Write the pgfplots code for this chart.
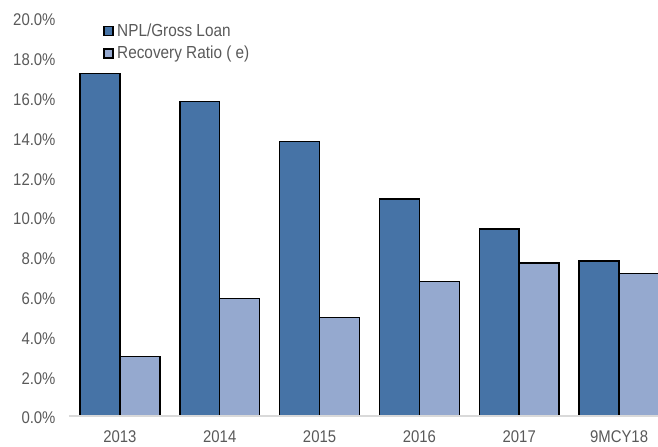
\documentclass[border=0pt]{standalone}
\usepackage{pgfplots}
\pgfplotsset{compat=1.18}
\usepackage{fontspec}
\setmainfont{Liberation Sans}[FakeStretch=0.88]
\definecolor{darkb}{HTML}{4673A6}
\definecolor{lightb}{HTML}{95A9CF}
\definecolor{txtgray}{HTML}{595959}
\begin{document}
\begin{tikzpicture}
\path[use as bounding box] (-69bp,-31bp) rectangle (589bp,416bp);
\begin{axis}[
  scale only axis,
  width=589bp, height=398bp,
  at={(0,0)}, anchor=south west,
  ybar=0pt, bar width=0.4,
  xmin=-0.51, xmax=5.39,
  ymin=0, ymax=20,
  xtick={0,1,2,3,4,5},
  xticklabels={2013,2014,2015,2016,2017,9MCY18},
  ytick={0,2,...,20},
  yticklabel={\pgfmathprintnumber[fixed,fixed zerofill,precision=1]{\tick}\%},
  /pgf/number format/assume math mode=true,
  tick label style={font=\fontsize{17}{19}\selectfont, text=txtgray},
  yticklabel style={xshift=-10bp, yshift=-2bp},
  xticklabel style={yshift=-11bp},
  major tick length=0pt,
  axis lines*=left,
  axis line style={draw=none},
  clip=true,
  legend style={draw=none, fill=none, at={(rel axis cs:0.058,0.995)}, anchor=north west,
    font=\fontsize{17.5}{20}\selectfont, text=txtgray, row sep=4bp,
    legend cell align=left, inner xsep=0pt},
  legend image code/.code={\draw[#1, line width=1.5bp] (0bp,-4.5bp) rectangle (9bp,4.5bp); \path[draw=none,fill=none] (11bp,0bp) circle (0.1bp);},
]
\addplot[fill=darkb, draw=black, line width=1.5bp] coordinates {(0,17.2) (1,15.8) (2,13.8) (3,10.9) (4,9.4) (5,7.8)};
\addplot[fill=lightb, draw=black, line width=1.5bp] coordinates {(0,3.0) (1,5.9) (2,4.95) (3,6.75) (4,7.7) (5,7.15)};
\legend{NPL/Gross Loan, Recovery Ratio ( e)}
\draw[draw=black!15, line width=2bp] (rel axis cs:0,0) -- (rel axis cs:1,0);
\end{axis}
\end{tikzpicture}
\end{document}
